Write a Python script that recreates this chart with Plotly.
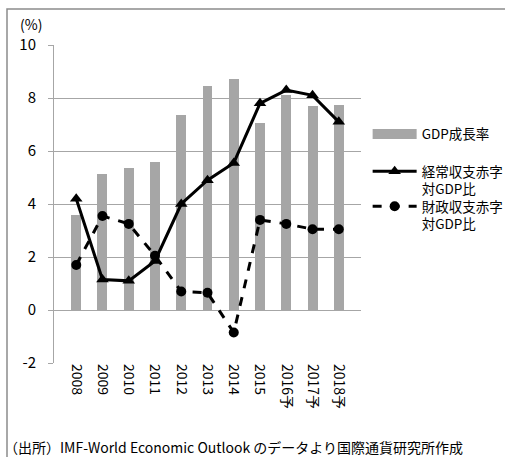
import plotly.graph_objects as go

years = ["2008", "2009", "2010", "2011", "2012", "2013", "2014", "2015", "2016予", "2017予", "2018予"]
gdp_growth = [3.6, 5.15, 5.35, 5.6, 7.35, 8.45, 8.7, 7.05, 8.1, 7.7, 7.75]
current_account = [4.2, 1.15, 1.1, 1.85, 4.0, 4.9, 5.55, 7.8, 8.3, 8.1, 7.1]
fiscal_balance = [1.7, 3.55, 3.25, 2.05, 0.7, 0.65, -0.85, 3.4, 3.25, 3.05, 3.05]
y_ticks = [-2, 0, 2, 4, 6, 8, 10]
y_tick_labels = ["-2", "0", "2", "4", "6", "8", "10"]

name_gdp = "GDP成長率"
name_ca = "経常収支赤字<br>対GDP比"
name_fb = "財政収支赤字<br>対GDP比"
source_text = "（出所）IMF-World Economic Outlook のデータより国際通貨研究所作成"

FONT = "Noto Sans CJK JP"
GRAY_BAR = "#A6A6A6"

fig = go.Figure()
fig.add_trace(go.Bar(x=years, y=gdp_growth, marker=dict(color=GRAY_BAR, line=dict(width=0)),
                     width=0.38, showlegend=False, name=name_gdp))
# legend proxy for the bar (wide rectangle swatch)
fig.add_trace(go.Scatter(x=[None], y=[None], mode="lines", line=dict(color=GRAY_BAR, width=11),
                         name=name_gdp, showlegend=True, legend="legend"))
fig.add_trace(go.Scatter(x=years, y=current_account, mode="lines+markers", name=name_ca,
                         line=dict(color="black", width=3), legend="legend2",
                         marker=dict(symbol="triangle-up", size=11, color="black")))
fig.add_trace(go.Scatter(x=years, y=fiscal_balance, mode="lines+markers", name=name_fb,
                         line=dict(color="black", width=3, dash="dash"), legend="legend3",
                         marker=dict(symbol="circle", size=10, color="black")))

legend_common = dict(xref="container", yref="container", x=0.728,
                     xanchor="left", yanchor="top", valign="top",
                     font=dict(family=FONT, size=13.5), itemwidth=44,
                     bgcolor="rgba(0,0,0,0)")

fig.update_layout(
    width=505, height=457,
    margin=dict(l=54, r=144, t=45, b=94, autoexpand=False),
    paper_bgcolor="white", plot_bgcolor="white",
    font=dict(family=FONT, size=14, color="black"),
    bargap=0,
    legend=dict(y=0.740, **legend_common),
    legend2=dict(y=0.6586, **legend_common),
    legend3=dict(y=0.582, **legend_common),
    xaxis=dict(type="category", tickangle=90, showgrid=False, showline=False,
               ticks="", tickfont=dict(family=FONT, size=14)),
    yaxis=dict(range=[-2, 10], tickmode="array", tickvals=y_ticks, ticktext=y_tick_labels,
               showgrid=True, gridcolor="#A6A6A6", gridwidth=1,
               showline=True, linecolor="#A6A6A6", linewidth=1,
               ticks="outside", ticklen=5, tickcolor="#A6A6A6",
               ticklabelstandoff=9,
               zeroline=False, tickfont=dict(family=FONT, size=15)),
    showlegend=True,
)

fig.add_annotation(text="(%)", xref="paper", yref="paper", x=-0.075, y=1.028,
                   xanchor="center", yanchor="bottom", showarrow=False,
                   font=dict(family=FONT, size=14))
fig.add_annotation(text=source_text, xref="paper", yref="paper", x=-0.17, y=-0.264,
                   xanchor="left", yanchor="middle", showarrow=False,
                   font=dict(family=FONT, size=14))
# outer frame, positioned in pixels relative to the plot's lower-left corner
fig.add_shape(type="rect", xref="paper", yref="paper",
              xsizemode="pixel", xanchor=0, ysizemode="pixel", yanchor=0,
              x0=-47, x1=480, y0=-120, y1=354,
              line=dict(color="#8C8C8C", width=1.5), fillcolor="rgba(0,0,0,0)", layer="above")

fig.write_html("out.html")
